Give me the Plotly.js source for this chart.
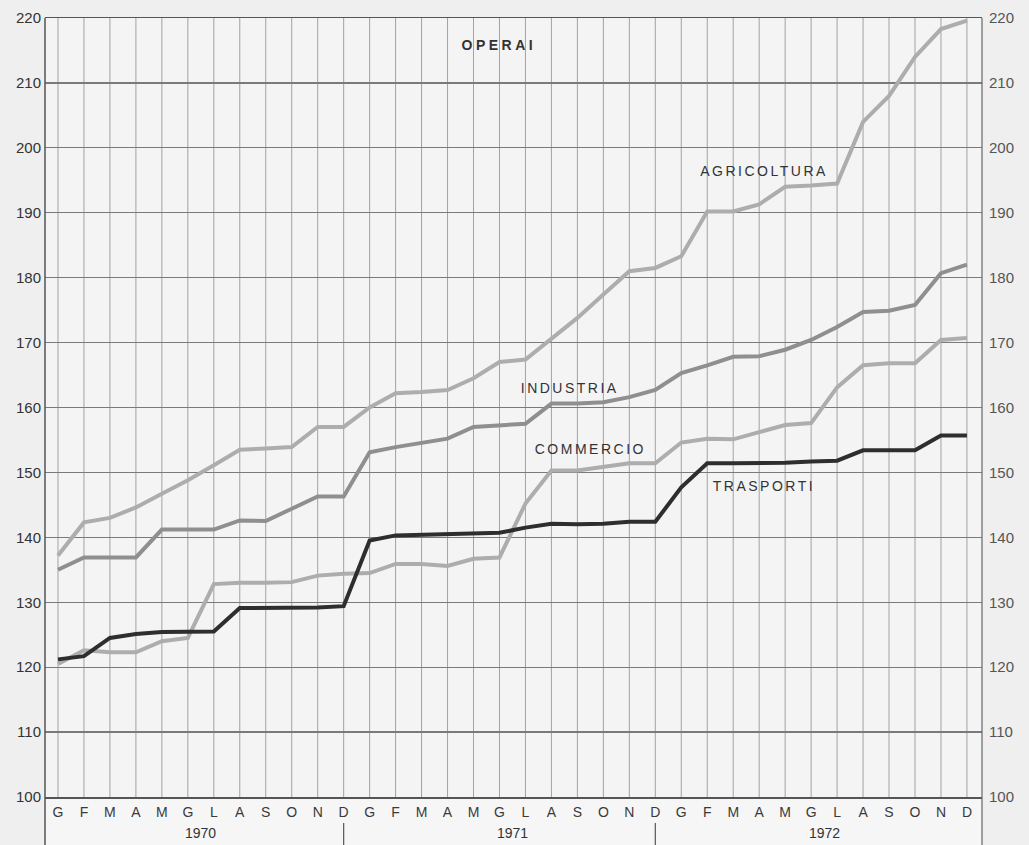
<!DOCTYPE html>
<html>
<head>
<meta charset="utf-8">
<script src="https://cdn.plot.ly/plotly-3.0.1.min.js"></script>
<style>
  html, body { margin: 0; padding: 0; background: #efefef; }
  #chart { width: 1029px; height: 845px; }
</style>
</head>
<body>
<div id="chart"></div>
<script>
// ---- Data ----
const monthLabels = ['G','F','M','A','M','G','L','A','S','O','N','D',
                     'G','F','M','A','M','G','L','A','S','O','N','D',
                     'G','F','M','A','M','G','L','A','S','O','N','D'];
const years = ['1970', '1971', '1972'];

const agricoltura = [137.2, 142.3, 143.0, 144.6, 146.7, 148.8, 151.1, 153.5, 153.7, 153.9, 157.0, 157.0,
                     160.0, 162.2, 162.4, 162.7, 164.5, 167.0, 167.4, 170.6, 173.8, 177.4, 181.0, 181.5,
                     183.3, 190.2, 190.2, 191.3, 194.0, 194.2, 194.5, 204.0, 208.0, 214.0, 218.3, 219.6];
const industria   = [135.0, 136.9, 136.9, 136.9, 141.2, 141.2, 141.2, 142.6, 142.5, 144.4, 146.3, 146.3,
                     153.1, 153.9, 154.6, 155.2, 157.0, 157.3, 157.5, 160.6, 160.6, 160.8, 161.6, 162.7,
                     165.3, 166.5, 167.8, 167.9, 168.9, 170.4, 172.4, 174.7, 174.9, 175.8, 180.7, 182.0];
const commercio   = [120.5, 122.6, 122.3, 122.3, 124.0, 124.5, 132.8, 133.0, 133.0, 133.1, 134.1, 134.4,
                     134.5, 135.9, 135.9, 135.6, 136.7, 136.9, 145.2, 150.3, 150.3, 150.8, 151.4, 151.4,
                     154.6, 155.2, 155.1, 156.2, 157.3, 157.6, 163.1, 166.5, 166.8, 166.8, 170.4, 170.7];
const trasporti   = [121.2, 121.7, 124.5, 125.1, 125.4, 125.5, 125.5, 129.1, 129.1, 129.2, 129.2, 129.4,
                     139.5, 140.3, 140.4, 140.5, 140.6, 140.7, 141.5, 142.1, 142.0, 142.1, 142.4, 142.4,
                     147.7, 151.4, 151.4, 151.4, 151.5, 151.7, 151.8, 153.4, 153.4, 153.4, 155.7, 155.7];

const seriesNames = ['AGRICOLTURA', 'INDUSTRIA', 'COMMERCIO', 'TRASPORTI'];
const yTicks = [100, 110, 120, 130, 140, 150, 160, 170, 180, 190, 200, 210, 220];

// ---- Build ----
const idx = monthLabels.map((_, i) => i);
const FONT = 'Liberation Sans, Arial, sans-serif';

function line(y, color, width, name) {
  return { x: idx, y: y, type: 'scatter', mode: 'lines', name: name,
           line: { color: color, width: width, shape: 'linear' }, hoverinfo: 'x+y' };
}

const traces = [
  line(agricoltura, '#adadad', 4, seriesNames[0]),
  line(industria,   '#8f8f8f', 4, seriesNames[1]),
  line(commercio,   '#adadad', 4, seriesNames[2]),
  line(trasporti,   '#2e2e2e', 4, seriesNames[3]),
  // invisible trace to carry right axis
  { x: [idx[0]], y: [yTicks[0]], yaxis: 'y2', mode: 'markers', marker: {opacity: 0}, showlegend: false, hoverinfo: 'skip' }
];

// vertical month gridlines (lighter than horizontal ones)
const shapes = [];
idx.forEach(i => {
  shapes.push({ type: 'line', xref: 'x', yref: 'paper', x0: i, x1: i, y0: 0, y1: 1,
                line: { color: '#a2a2a2', width: 1 }, layer: 'below' });
});

const yBelow = -48 / 779;
shapes.push(
  { type: 'line', xref: 'paper', yref: 'paper', x0: 0, x1: 0, y0: yBelow, y1: 1, line: { color: '#555', width: 1.5 } },
  { type: 'line', xref: 'paper', yref: 'paper', x0: 1, x1: 1, y0: yBelow, y1: 1, line: { color: '#666', width: 1.2 } },
  { type: 'line', xref: 'x', yref: 'paper', x0: 11, x1: 11, y0: yBelow, y1: -26 / 779, line: { color: '#555', width: 1.2 } },
  { type: 'line', xref: 'x', yref: 'paper', x0: 23, x1: 23, y0: yBelow, y1: -26 / 779, line: { color: '#555', width: 1.2 } },
  { type: 'rect', xref: 'paper', yref: 'paper', x0: 0, x1: 1, y0: yBelow, y1: 0, fillcolor: '#f6f6f6', line: { width: 0 }, layer: 'below' }
);

const labelFont = { family: FONT, size: 14, color: '#333' };
const annotations = [
  { text: '<b>OPERAI</b>', xref: 'paper', yref: 'y', x: (499 - 45) / 937, y: 215.9, showarrow: false,
    font: { family: FONT, size: 14, color: '#333' } },
  { text: seriesNames[0], xref: 'x', yref: 'y', x: 27.2, y: 196.5, showarrow: false, font: labelFont },
  { text: seriesNames[1], xref: 'x', yref: 'y', x: 19.7, y: 163.0, showarrow: false, font: labelFont },
  { text: seriesNames[2], xref: 'x', yref: 'y', x: 20.5, y: 153.6, showarrow: false, font: labelFont },
  { text: seriesNames[3], xref: 'x', yref: 'y', x: 27.2, y: 147.9, showarrow: false, font: labelFont }
];
years.forEach((yr, k) => {
  annotations.push({ text: yr, xref: 'x', yref: 'paper', x: k * 12 + 5.5, y: -36 / 779, showarrow: false,
    yanchor: 'middle', font: { family: FONT, size: 14, color: '#333' } });
});

const layout = {
  width: 1029, height: 845,
  margin: { l: 45, r: 47, t: 18, b: 48 },
  paper_bgcolor: '#efefef',
  plot_bgcolor: '#f4f4f4',
  showlegend: false,
  font: { family: FONT, color: '#333' },
  xaxis: {
    range: [-0.5, 35.58], tickmode: 'array', tickvals: idx, ticktext: monthLabels,
    showgrid: false, zeroline: false, showline: true, linecolor: '#555', linewidth: 1.5, mirror: true,
    ticks: '', tickfont: { family: FONT, size: 14, color: '#3a3a3a' }, ticklabelstandoff: 2
  },
  yaxis: {
    range: [100, 220], tickmode: 'array', tickvals: yTicks,
    showgrid: true, gridcolor: '#7a7a7a', gridwidth: 1.3, zeroline: false,
    showline: false, ticks: '', tickfont: { family: FONT, size: 15, color: '#333' }, ticklabelstandoff: 3
  },
  yaxis2: {
    range: [100, 220], tickmode: 'array', tickvals: yTicks, overlaying: 'y', side: 'right',
    showgrid: false, zeroline: false, showline: false, ticks: '',
    tickfont: { family: FONT, size: 15, color: '#555' }, ticklabelstandoff: 6
  },
  shapes: shapes,
  annotations: annotations
};

Plotly.newPlot('chart', traces, layout, { displayModeBar: false, staticPlot: true }).then(() => {
  // widen letter spacing of the printed-style labels, as in the original
  document.querySelectorAll('#chart .annotation-text').forEach(t => {
    const s = t.textContent;
    if (s === 'OPERAI') t.style.letterSpacing = '3.5px';
    else if (seriesNames.indexOf(s) >= 0) t.style.letterSpacing = '2.5px';
  });
});
</script>
</body>
</html>
